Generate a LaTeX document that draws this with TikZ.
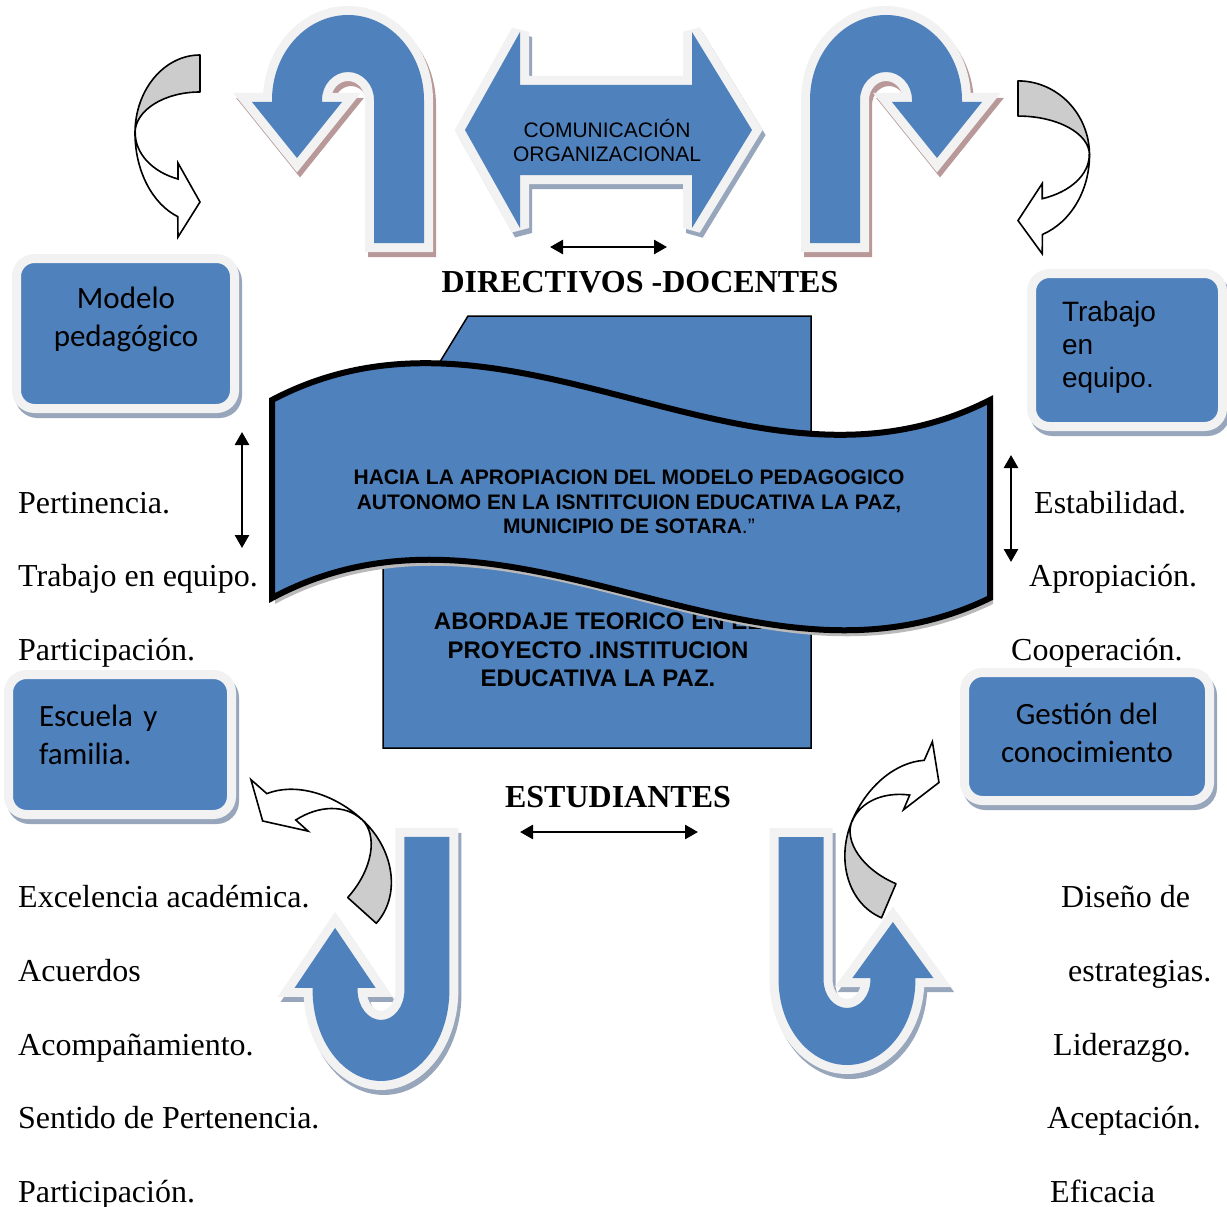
\documentclass[tikz,border=0pt]{standalone}
\usepackage{fontspec}
\setmainfont{Liberation Serif}
\newfontfamily\arialfont{Liberation Sans}
\newfontfamily\calibrifont{Carlito}
\usetikzlibrary{arrows.meta}

\definecolor{ublue}{HTML}{4F81BD}
\definecolor{rim}{HTML}{F2F2F2}
\definecolor{roseshade}{RGB}{184,152,152}
\definecolor{blueshade}{RGB}{152,166,188}
\definecolor{bandgray}{HTML}{CCCCCC}

% U-turn arrow: bend centred on the origin, head on the left leg
\newcommand{\uturnpath}{(76,143) -- (76,0)
  arc[start angle=0, end angle=-180, x radius=76, y radius=85]
  -- (-76,2) -- (-96,2) -- (-51,58) -- (-6,2) -- (-26,2) -- (-26,0)
  arc[start angle=180, end angle=360, x radius=26, y radius=28] -- (26,143) -- cycle}
\newcommand{\uturn}[2]{%
  \path[shift={(3,5)}, #1, fill=#2, draw=#2, rim line] \uturnpath;
  \path[#1, fill=rim, draw=rim, rim line] \uturnpath;
  \path[#1, fill=ublue] \uturnpath;}

% left-right arrow
\newcommand{\lrpath}{(465,130) -- (520,32) -- (520,85) -- (692,85) -- (692,32) -- (752,130)
  -- (692,228) -- (692,175) -- (520,175) -- (520,228) -- cycle}

% wave banner
\newcommand{\wavepath}{(272,400) .. controls (511,274) and (751,522) .. (990,400)
  -- (990,598) .. controls (751,714) and (511,470) .. (272,598) -- cycle}

% curved arrow: grey back band on top, white front band with its head
\newcommand{\bentarrow}[1]{%
  \filldraw[back band, #1] (0,-78)
    arc[start angle=270, end angle=180, x radius=65, y radius=78]
    arc[start angle=180, end angle=270, x radius=65, y radius=41] -- cycle;
  \filldraw[front band, #1] (-65,0)
    arc[start angle=180, end angle=110, x radius=65, y radius=89]
    -- (-22,104) -- (0,69) -- (-22,30) -- (-22,46)
    arc[start angle=110, end angle=180, x radius=65, y radius=49] -- cycle;}

\begin{document}
\begin{tikzpicture}[
    x=1pt, y=-1pt,
    >={Triangle[length=13pt, width=14pt]},
    % text styles
    list text/.style={anchor=base west, inner sep=0pt, font=\fontsize{32}{38}\selectfont},
    head text/.style={inner sep=0pt, font=\bfseries\fontsize{32}{38}\selectfont},
    arrow text/.style={inner sep=0pt, align=center, font=\arialfont\fontsize{21}{24}\selectfont},
    banner text/.style={inner sep=0pt, align=center, font=\arialfont\bfseries\fontsize{21}{24.5}\selectfont},
    core text/.style={inner sep=0pt, align=center, font=\arialfont\bfseries\fontsize{24}{28.5}\selectfont},
    box text/.style={inner sep=0pt, font=\calibrifont\fontsize{31}{38}\selectfont},
    % shapes
    rim line/.style={line width=18pt, line join=miter, miter limit=2.5},
    tema box/.style={rounded corners=18pt, fill=ublue, draw=rim, line width=9pt, inner sep=0pt,
        preaction={fill=blueshade, draw=blueshade, line width=9pt,
                   transform canvas={shift={(3pt,-5pt)}}}},
    back band/.style={fill=bandgray, draw=black, line width=1.6pt, line join=round},
    front band/.style={fill=white, draw=black, line width=1.6pt, line join=miter},
    both ways/.style={<->, line width=2.6pt}
]

\fill[white] (0,0) rectangle (1227,1207);
\useasboundingbox (0,0) rectangle (1227,1207);

% ==========================================
% 1. BLUE U-TURN ARROWS
% ==========================================
\uturn{shift={(348,100)}}{roseshade}
\uturn{shift={(886,100)}, xscale=-1}{roseshade}
\uturn{shift={(381,990)}, xscale=0.9, yscale=-1.07}{blueshade}
\uturn{shift={(847,980)}, xscale=-0.9, yscale=-1}{blueshade}

% ==========================================
% 2. COMUNICACION ORGANIZACIONAL
% ==========================================
\path[shift={(3,5)}, fill=blueshade, draw=blueshade, rim line] \lrpath;
\path[fill=rim, draw=rim, rim line] \lrpath;
\path[fill=ublue] \lrpath;
\node[arrow text] (comunicacion) at (607,140) {COMUNICACIÓN\\ORGANIZACIONAL};

% ==========================================
% 3. CURVED ARROWS
% ==========================================
\bentarrow{shift={(200,133)}}
\bentarrow{shift={(1018,155)}, xscale=-1.1, yscale=0.95}
\bentarrow{shift={(316,869)}, rotate=-132, scale=1.04}
\bentarrow{shift={(912,846)}, rotate=-23, yscale=-1}

% ==========================================
% 4. ROUNDED BOXES
% ==========================================
\node[tema box, minimum width=218pt, minimum height=150pt] (modelo) at (125.5,333.5) {};
\node[box text, align=center] (modelo text) at (126,319) {Modelo\\pedagógico};

\node[tema box, minimum width=191pt, minimum height=153pt] (trabajo) at (1127,350) {};
\node[box text, align=left, text width=130pt, font=\arialfont\fontsize{28}{33}\selectfont]
    (trabajo text) at (1127,347) {Trabajo\\en\\equipo.};

\node[tema box, minimum width=223pt, minimum height=140pt] (escuela) at (120,744.5) {};
\node[box text, align=left, text width=162pt] (escuela text) at (120,735) {Escuela y\\familia.};

\node[tema box, minimum width=245pt, minimum height=128pt] (gestion) at (1087,736.5) {};
\node[box text, align=center] (gestion text) at (1087,733) {Gestión del\\conocimiento};

% ==========================================
% 5. CENTRE: PROJECT BOX AND BANNER
% ==========================================
\filldraw[fill=ublue, draw=black, line width=1.5pt]
    (468,316) -- (811,316) -- (811,748) -- (383,748) -- (383,455) -- cycle;
\node[core text] (abordaje) at (598,650)
    {ABORDAJE TEORICO EN EL\\PROYECTO .INSTITUCION\\EDUCATIVA LA PAZ.};

\fill[gray!55, shift={(3,6)}] \wavepath;
\filldraw[fill=ublue, draw=black, line width=6pt] \wavepath;
\node[banner text] (lema) at (629,502)
    {HACIA LA APROPIACION DEL MODELO PEDAGOGICO\\
     AUTONOMO EN LA ISNTITCUION EDUCATIVA LA PAZ,\\
     MUNICIPIO DE SOTARA{\mdseries.”}};

% ==========================================
% 6. HEADINGS AND DOUBLE ARROWS
% ==========================================
\node[head text] (directivos) at (640,282) {DIRECTIVOS -DOCENTES};
\node[head text] (estudiantes) at (618,797) {ESTUDIANTES};

\coordinate (top left end) at (550,247);
\coordinate (top right end) at (667,247);
\coordinate (low left end) at (520,832);
\coordinate (low right end) at (698,832);
\coordinate (left up end) at (242,432);
\coordinate (left down end) at (242,548);
\coordinate (right up end) at (1011,455);
\coordinate (right down end) at (1011,562);

\draw[both ways] (top left end) -- (top right end);
\draw[both ways] (low left end) -- (low right end);
\draw[both ways] (left up end) -- (left down end);
\draw[both ways] (right up end) -- (right down end);

% ==========================================
% 7. VALUE LISTS
% ==========================================
\node[list text] (pertinencia) at (18,513) {Pertinencia.};
\node[list text] (trabajo eq) at (18,586) {Trabajo en equipo.};
\node[list text] (participacion a) at (18,660) {Participación.};

\node[list text] (estabilidad) at (1034,513) {Estabilidad.};
\node[list text] (apropiacion) at (1029,586) {Apropiación.};
\node[list text] (cooperacion) at (1011,660) {Cooperación.};

\node[list text] (excelencia) at (18,907) {Excelencia académica.};
\node[list text] (acuerdos) at (18,981) {Acuerdos};
\node[list text] (acompanamiento) at (18,1055) {Acompañamiento.};
\node[list text] (sentido) at (18,1128) {Sentido de Pertenencia.};
\node[list text] (participacion b) at (18,1202) {Participación.};

\node[list text] (diseno) at (1061,907) {Diseño de};
\node[list text] (estrategias) at (1068,981) {estrategias.};
\node[list text] (liderazgo) at (1053,1055) {Liderazgo.};
\node[list text] (aceptacion) at (1047,1128) {Aceptación.};
\node[list text] (eficacia) at (1050,1202) {Eficacia};

\end{tikzpicture}
\end{document}
